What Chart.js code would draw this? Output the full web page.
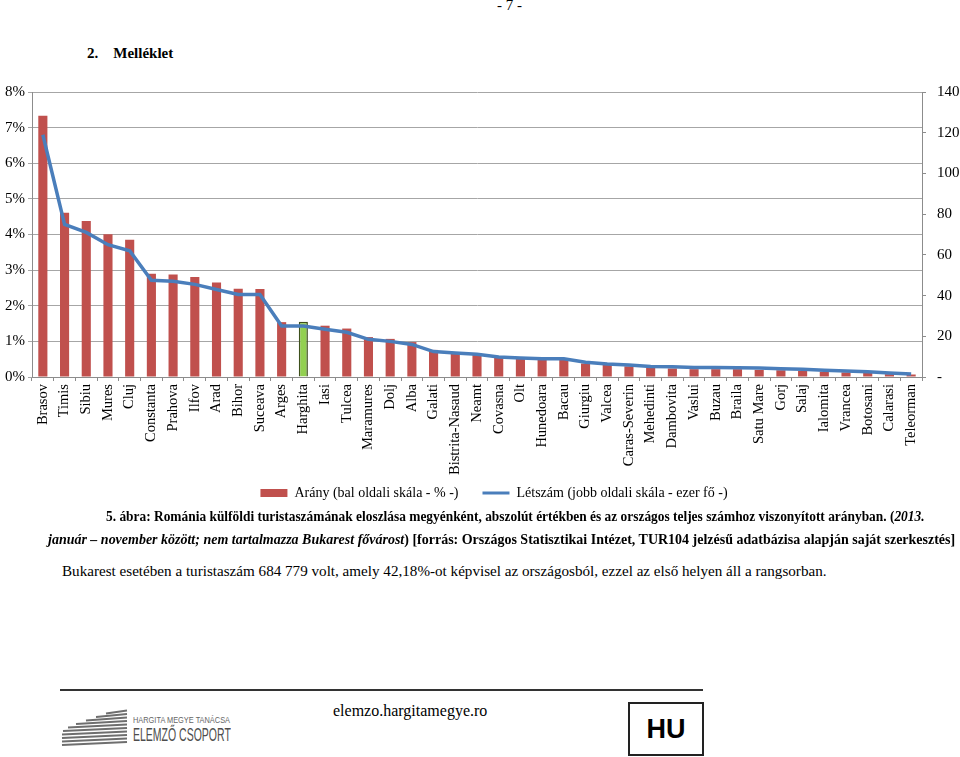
<!DOCTYPE html>
<html lang="hu">
<head>
<meta charset="UTF-8" />
<title>2. Melléklet</title>
<style>
  body { margin: 0; width: 960px; height: 757px; position: relative; overflow: hidden; background: #fff; color: #000;
         font-family: "Liberation Serif", "Times New Roman", serif; }
  .abs { position: absolute; white-space: nowrap; }
  .fit { transform-origin: left center; }
  #chartBox { position: absolute; left: 0; top: 72px; width: 960px; height: 438px; }
</style>
</head>
<body>
<div class="abs" style="left:497px;top:-3px;font-size:15px;">- 7 -</div>
<div class="abs" style="left:87px;top:45px;font-size:15px;font-weight:bold;">2.<span style="margin-left:15px">Melléklet</span></div>

<div id="chartBox"><canvas id="myChart"></canvas></div>

<div class="abs fit" data-w="819" style="left:106px;top:509px;font-size:14px;font-weight:bold;">5. ábra: Románia külföldi turistaszámának eloszlása megyénként, abszolút értékben és az országos teljes számhoz viszonyított arányban. (<i>2013.</i></div>
<div class="abs fit" data-w="907" style="left:48px;top:532px;font-size:14px;font-weight:bold;"><i>január – november között; nem tartalmazza Bukarest fővárost</i>) [forrás: Országos Statisztikai Intézet, TUR104 jelzésű adatbázisa alapján saját szerkesztés]</div>
<div class="abs fit" data-w="765" style="left:62px;top:564px;font-size:14px;">Bukarest esetében a turistaszám 684 779 volt, amely 42,18%-ot képvisel az országosból, ezzel az első helyen áll a rangsorban.</div>

<div class="abs" style="left:60px;top:689px;width:643px;height:2px;background:#333;"></div>
<svg class="abs" style="left:60px;top:706px;" width="70" height="42" id="logo"></svg>
<div class="abs fit" data-w="97" style="left:133px;top:715px;font-family:'Liberation Sans',Arial,sans-serif;font-size:9px;color:#666;">HARGITA MEGYE TANÁCSA</div>
<div class="abs fit" data-w="98" style="left:133px;top:725px;font-family:'Liberation Sans',Arial,sans-serif;font-size:18px;color:#4d4d4d;">ELEMZŐ CSOPORT</div>
<div class="abs" style="left:333px;top:702px;font-size:16px;">elemzo.hargitamegye.ro</div>
<div class="abs" style="left:628px;top:702px;width:72px;height:50px;border:2px solid #222;text-align:center;line-height:50px;font-family:'Liberation Sans',Arial,sans-serif;font-weight:bold;font-size:27px;">HU</div>

<script src="https://cdn.jsdelivr.net/npm/chart.js@4.4.1/dist/chart.umd.min.js"></script>
<script>
  // megyék (Bukarest nélkül)
  var counties = ["Brasov", "Timis", "Sibiu", "Mures", "Cluj", "Constanta", "Prahova", "Ilfov", "Arad", "Bihor",
    "Suceava", "Arges", "Harghita", "Iasi", "Tulcea", "Maramures", "Dolj", "Alba", "Galati", "Bistrita-Nasaud",
    "Neamt", "Covasna", "Olt", "Hunedoara", "Bacau", "Giurgiu", "Valcea", "Caras-Severin", "Mehedinti", "Dambovita",
    "Vaslui", "Buzau", "Braila", "Satu Mare", "Gorj", "Salaj", "Ialomita", "Vrancea", "Botosani", "Calarasi", "Teleorman"];
  // arány, %
  var sharePct = [7.33, 4.61, 4.38, 4.01, 3.85, 2.90, 2.88, 2.81, 2.65, 2.48,
    2.47, 1.54, 1.55, 1.44, 1.36, 1.12, 1.07, 0.98, 0.76, 0.70,
    0.66, 0.58, 0.53, 0.51, 0.49, 0.38, 0.34, 0.30, 0.26, 0.24,
    0.22, 0.22, 0.22, 0.20, 0.19, 0.17, 0.15, 0.13, 0.12, 0.08, 0.07];
  // létszám, ezer fő
  var visitors = [119, 75, 71, 65, 62, 47.5, 47, 45.5, 43, 40.5,
    40.5, 25, 25, 23.5, 22, 18.5, 17.5, 16, 12.5, 11.8,
    11.2, 9.8, 9.3, 9, 9, 7.3, 6.4, 5.9, 5.2, 5,
    4.7, 4.7, 4.6, 4.4, 4.1, 3.8, 3.3, 3.0, 2.6, 2.0, 1.5];
  var leftTicks = [0, 1, 2, 3, 4, 5, 6, 7, 8];
  var rightTicks = [0, 20, 40, 60, 80, 100, 120, 140];

  var highlight = "Harghita";
  var barColors = counties.map(function (c) { return c === highlight ? "#92d050" : "#c0504d"; });
  var barBorders = counties.map(function (c) { return c === highlight ? "#3d4f1c" : "rgba(0,0,0,0)"; });
  var barBorderW = counties.map(function (c) { return c === highlight ? 1.5 : 0; });

  var serif = "'Liberation Serif', 'Times New Roman', serif";
  var axisGray = "#8c8c8c";

  // a jelmagyarázat kicsit jobbra tolva, mint az eredetin
  var legendShift = {
    id: "legendShift",
    afterLayout: function (chart) {
      if (chart.legend) { chart.legend.left += 14; chart.legend.right += 14; }
    }
  };

  new Chart("myChart", {
    type: "bar",
    data: {
      labels: counties,
      datasets: [
        {
          label: "Arány (bal oldali skála - % -)\u00a0\u00a0\u00a0\u00a0",
          data: sharePct,
          backgroundColor: barColors,
          borderColor: barBorders,
          borderWidth: barBorderW,
          yAxisID: "y",
          order: 1,
          barPercentage: 0.42,
          categoryPercentage: 1
        },
        {
          type: "line",
          label: "Létszám (jobb oldali skála - ezer fő -)",
          data: visitors,
          borderColor: "#4a7ebb",
          backgroundColor: "#4a7ebb",
          borderWidth: 3.5,
          pointRadius: 0,
          tension: 0,
          yAxisID: "y1",
          order: 0
        }
      ]
    },
    plugins: [legendShift],
    options: {
      responsive: true,
      maintainAspectRatio: false,
      animation: false,
      layout: { padding: { top: 0, left: 0, right: 0, bottom: 0 } },
      scales: {
        x: {
          grid: { drawOnChartArea: false, drawTicks: true, tickLength: 4, color: axisGray, offset: true },
          border: { color: axisGray },
          ticks: { minRotation: 90, maxRotation: 90, autoSkip: false, padding: 3, color: "#000",
                   font: { family: serif, size: 14.5 } },
          afterFit: function (s) { s.height = 99; }
        },
        y: {
          position: "left",
          min: 0, max: 8,
          afterBuildTicks: function (s) { s.ticks = leftTicks.map(function (v) { return { value: v }; }); },
          grid: { color: "#a6a6a6", tickLength: 4 },
          border: { color: axisGray },
          ticks: { padding: 3, color: "#000", font: { family: serif, size: 15 },
                   callback: function (v) { return v + "%"; } },
          afterFit: function (s) { s.width = 32; }
        },
        y1: {
          position: "right",
          min: 0, max: 140,
          afterBuildTicks: function (s) { s.ticks = rightTicks.map(function (v) { return { value: v }; }); },
          grid: { drawOnChartArea: false, tickLength: 4, color: axisGray },
          border: { color: axisGray },
          ticks: { padding: 11, color: "#000", font: { family: serif, size: 15 },
                   callback: function (v) { return v === 0 ? "-" : v; } },
          afterFit: function (s) { s.width = 38; }
        }
      },
      plugins: {
        tooltip: { enabled: false },
        legend: {
          position: "bottom",
          labels: {
            color: "#000",
            font: { family: serif, size: 14 },
            usePointStyle: true,
            pointStyleWidth: 27,
            boxHeight: 8,
            padding: 10,
            generateLabels: function (chart) {
              var items = Chart.defaults.plugins.legend.labels.generateLabels(chart);
              items.sort(function (a, b) { return a.datasetIndex - b.datasetIndex; });
              items.forEach(function (it) {
                if (it.datasetIndex === 0) { it.pointStyle = "rect"; it.fillStyle = "#c0504d"; it.strokeStyle = "#c0504d"; it.lineWidth = 0; }
                else { it.pointStyle = "line"; it.strokeStyle = "#4a7ebb"; it.lineWidth = 3; }
              });
              return items;
            }
          }
        }
      }
    }
  });

  // logo csíkok
  var svg = document.getElementById("logo");
  var stripeY = [6, 9.5, 13, 16.5, 20, 23.5, 27, 30.5, 34, 37.5];
  var stripeX = [46, 36, 26, 16, 8, 3, 2, 2, 2, 2];
  stripeY.forEach(function (y, i) {
    var l = document.createElementNS("http://www.w3.org/2000/svg", "line");
    l.setAttribute("x1", stripeX[i]); l.setAttribute("x2", 67);
    l.setAttribute("y1", y + 1.5); l.setAttribute("y2", y - 1.5);
    l.setAttribute("stroke", "#6e6e6e"); l.setAttribute("stroke-width", "1.8");
    svg.appendChild(l);
  });

  // szövegsorok szélességre illesztése
  document.querySelectorAll(".fit").forEach(function (el) {
    var w = el.offsetWidth;
    el.style.transform = "scaleX(" + (parseFloat(el.dataset.w) / w) + ")";
  });
</script>
</body>
</html>
